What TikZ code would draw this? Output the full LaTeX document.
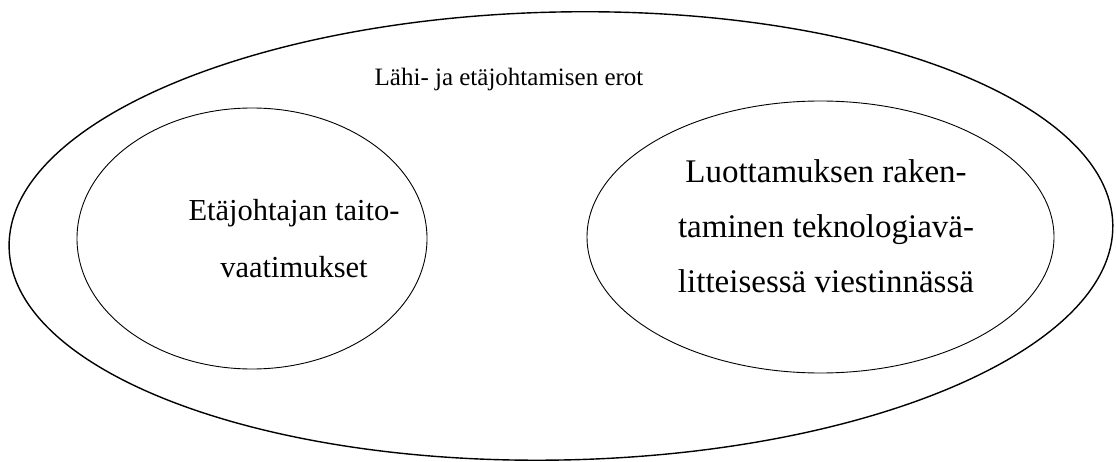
\documentclass[tikz,border=0pt]{standalone}
\usepackage{fontspec}
\setmainfont{Liberation Serif}
\begin{document}
\begin{tikzpicture}[x=1pt,y=-1pt,
  outerring/.style={line width=1.4pt},
  innerring/.style={line width=0.9pt},
  label/.style={align=center, inner sep=0pt, anchor=base}]
\useasboundingbox (0,0) rectangle (1116,462);
\coordinate (oc) at (561,236);
\draw[outerring, rotate around={1.2:(oc)}] (oc) ellipse [x radius=552pt, y radius=224pt];
\coordinate (lc) at (252,238.5);
\draw[innerring] (lc) ellipse [x radius=175pt, y radius=130.5pt];
\coordinate (rc) at (820.5,237);
\draw[innerring] (rc) ellipse [x radius=233.5pt, y radius=136pt];
\node[label, font=\fontsize{25}{56}\selectfont] (title) at (509,86) {Lähi- ja etäjohtamisen erot};
\node[label, font=\fontsize{30.5}{56}\selectfont] (left) at (294,277) {Etäjohtajan taito-\\vaatimukset};
\node[label, font=\fontsize{33}{55.5}\selectfont] (right) at (826,293) {Luottamuksen raken-\\taminen teknologiavä-\\litteisessä viestinnässä};
\end{tikzpicture}
\end{document}
